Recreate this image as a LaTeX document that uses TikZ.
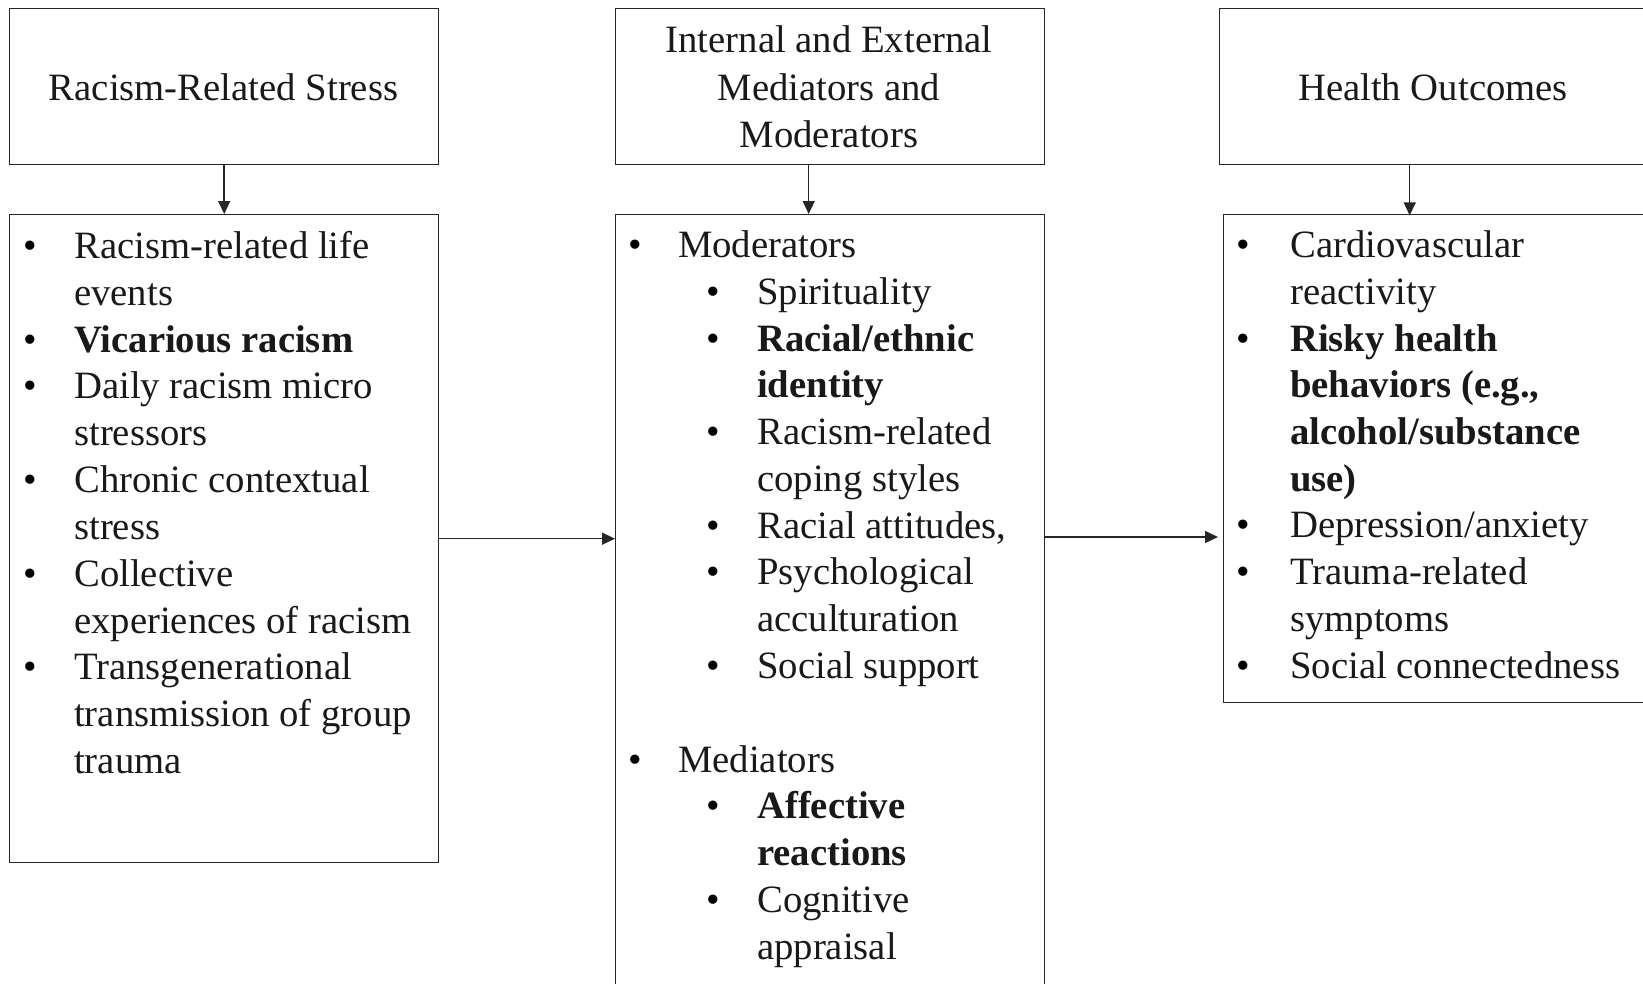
\documentclass[tikz,border=0pt]{standalone}
\usepackage{fontspec}
\setmainfont{Liberation Serif}
\usetikzlibrary{arrows.meta,calc}
\newcommand\bodyfont{\fontsize{38.7pt}{46.8pt}\selectfont}
\tikzset{
  box/.style={draw=black!85, line width=1.4pt, inner sep=0pt, anchor=north west},
  txt/.style={anchor=base west, inner sep=0pt, font=\bodyfont, text=black!90},
  btxt/.style={txt, font=\bodyfont\bfseries},
  ctxt/.style={anchor=base, inner sep=0pt, font=\bodyfont, text=black!90},
  bul/.style={anchor=base, inner sep=0pt, font=\bodyfont, text=black},
  arr/.style={-{Triangle[length=13pt,width=12pt]}, line width=1.5pt, draw=black!85}
}
\begin{document}
\begin{tikzpicture}[x=1pt,y=-1pt]
\useasboundingbox (0,0) rectangle (1643,983);
\clip (0,0) rectangle (1643,983);
% header boxes
\node[box, minimum width=429pt, minimum height=156pt] (h1) at (9,8) {};
\node[box, minimum width=429pt, minimum height=156pt] (h2) at (615,8) {};
\node[box, minimum width=429pt, minimum height=156pt] (h3) at (1219,8) {};
% body boxes
\node[box, minimum width=429pt, minimum height=648pt] (b1) at (9,214) {};
\node[box, minimum width=429pt, minimum height=800pt] (b2) at (615,214) {};
\node[box, minimum width=429pt, minimum height=488pt] (b3) at (1223,214) {};
% header texts
\node[ctxt] (t1) at (223.5,100) {Racism-Related Stress};
\node[ctxt] (t2a) at (829,52) {Internal and External};
\node[ctxt] (t2b) at (829,100) {Mediators and};
\node[ctxt] (t2c) at (829,147) {Moderators};
\node[ctxt] (t3) at (1433,100) {Health Outcomes};
% arrows
\draw[arr] (h1.south) -- (b1.north);
\draw[arr] ($(h2.south)+(-21.5,0)$) -- ($(b2.north)+(-21.5,0)$);
\draw[arr] ($(h3.south)+(-24.5,0)$) -- ($(h3.south)+(-24.5,50)$);
\draw[arr] (b1.east) -- (b2.west |- b1.east);
\draw[arr] ($(b2.north east)+(0,323)$) -- ($(b3.north west)+(-5,323)$);
% left body
\node[bul] (lb1) at (30,258) {\textbullet};
\node[txt] (l1) at (74,258) {Racism-related life};
\node[txt] (l2) at (74,305) {events};
\node[bul] (lb2) at (30,352) {\textbullet};
\node[btxt] (l3) at (74,352) {Vicarious racism};
\node[bul] (lb3) at (30,398) {\textbullet};
\node[txt] (l4) at (74,398) {Daily racism micro};
\node[txt] (l5) at (74,445) {stressors};
\node[bul] (lb4) at (30,492) {\textbullet};
\node[txt] (l6) at (74,492) {Chronic contextual};
\node[txt] (l7) at (74,539) {stress};
\node[bul] (lb5) at (30,586) {\textbullet};
\node[txt] (l8) at (74,586) {Collective};
\node[txt] (l9) at (74,633) {experiences of racism};
\node[bul] (lb6) at (30,679) {\textbullet};
\node[txt] (l10) at (74,679) {Transgenerational};
\node[txt] (l11) at (74,726) {transmission of group};
\node[txt] (l12) at (74,773) {trauma};
% middle body
\node[bul] (mb1) at (635,257) {\textbullet};
\node[txt] (m1) at (678,257) {Moderators};
\node[bul] (mb2) at (713,304) {\textbullet};
\node[txt] (m2) at (757,304) {Spirituality};
\node[bul] (mb3) at (713,351) {\textbullet};
\node[btxt] (m3) at (757,351) {Racial/ethnic};
\node[btxt] (m4) at (757,397) {identity};
\node[bul] (mb4) at (713,444) {\textbullet};
\node[txt] (m5) at (757,444) {Racism-related};
\node[txt] (m6) at (757,491) {coping styles};
\node[bul] (mb5) at (713,538) {\textbullet};
\node[txt] (m7) at (757,538) {Racial attitudes,};
\node[bul] (mb6) at (713,584) {\textbullet};
\node[txt] (m8) at (757,584) {Psychological};
\node[txt] (m9) at (757,631) {acculturation};
\node[bul] (mb7) at (713,678) {\textbullet};
\node[txt] (m10) at (757,678) {Social support};
\node[bul] (mb8) at (635,772) {\textbullet};
\node[txt] (m11) at (678,772) {Mediators};
\node[bul] (mb9) at (713,818) {\textbullet};
\node[btxt] (m12) at (757,818) {Affective};
\node[btxt] (m13) at (757,865) {reactions};
\node[bul] (mb10) at (713,912) {\textbullet};
\node[txt] (m14) at (757,912) {Cognitive};
\node[txt] (m15) at (757,959) {appraisal};
% right body
\node[bul] (rb1) at (1243,257) {\textbullet};
\node[txt] (r1) at (1290,257) {Cardiovascular};
\node[txt] (r2) at (1290,304) {reactivity};
\node[bul] (rb2) at (1243,351) {\textbullet};
\node[btxt] (r3) at (1290,351) {Risky health};
\node[btxt] (r4) at (1290,397) {behaviors (e.g.,};
\node[btxt] (r5) at (1290,444) {alcohol/substance};
\node[btxt] (r6) at (1290,491) {use)};
\node[bul] (rb3) at (1243,537) {\textbullet};
\node[txt] (r7) at (1290,537) {Depression/anxiety};
\node[bul] (rb4) at (1243,584) {\textbullet};
\node[txt] (r8) at (1290,584) {Trauma-related};
\node[txt] (r9) at (1290,631) {symptoms};
\node[bul] (rb5) at (1243,678) {\textbullet};
\node[txt] (r10) at (1290,678) {Social connectedness};
\end{tikzpicture}
\end{document}
